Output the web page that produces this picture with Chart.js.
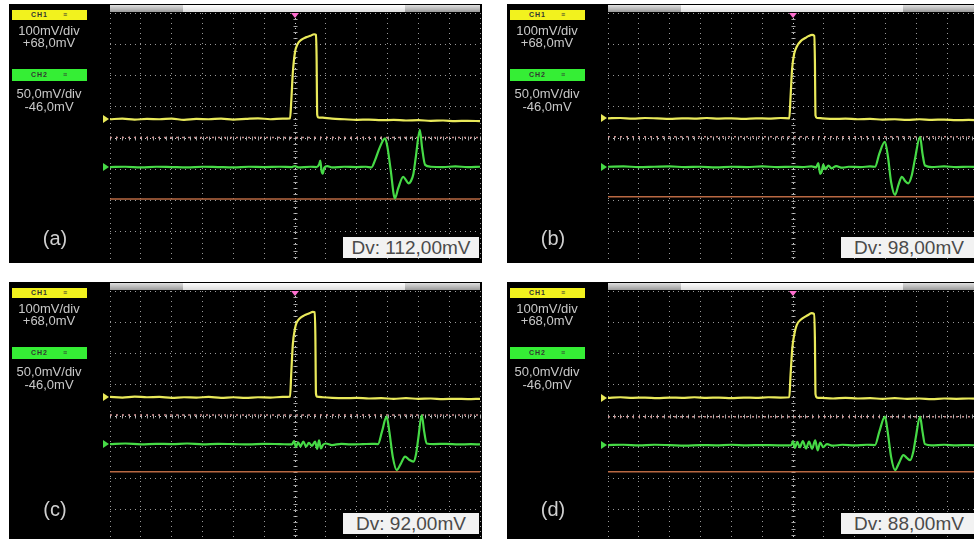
<!DOCTYPE html>
<html><head><meta charset="utf-8">
<script src="https://cdn.jsdelivr.net/npm/chart.js@4"></script>
<style>
html,body{margin:0;padding:0;background:#fff;}
body{width:974px;height:539px;overflow:hidden;position:relative;font-family:"Liberation Sans",Arial,sans-serif;}
.panel{position:absolute;width:473px;height:259px;background:#000;overflow:hidden;}
.panel canvas{position:absolute;left:0;top:0;}
.bar{position:absolute;left:101px;top:1px;width:370px;height:7px;background:linear-gradient(#e0e0e0,#9a9a9a);}
.bar .win{position:absolute;left:73px;top:0;width:222px;height:7px;background:linear-gradient(#ffffff,#dcdcdc);}
.trig{position:absolute;left:282px;top:9px;width:0;height:0;border-left:4px solid transparent;border-right:4px solid transparent;border-top:5px solid #ff70d0;}
.mk{position:absolute;left:94px;width:0;height:0;border-top:4px solid transparent;border-bottom:4px solid transparent;border-left:6px solid #fff;}
.chbox{position:absolute;left:3px;width:75px;font-size:7px;color:#333;text-align:center;font-weight:bold;letter-spacing:1px;word-spacing:12px;}
.txt{position:absolute;left:0;width:80px;text-align:center;color:#c8c8c8;font-size:13px;line-height:13px;white-space:nowrap;}
.lbl{position:absolute;left:26px;width:40px;text-align:center;color:#cfcfcf;font-size:20px;line-height:20px;}
.dv{position:absolute;left:334px;width:136px;height:21px;background:#f2f2f2;color:#4a4a4a;font-size:19px;line-height:21px;text-align:center;white-space:nowrap;}
</style>
</head>
<body>
<script>
// ---- data (x in horizontal divisions 0..12, y in vertical divisions 0..8) ----
const xDivisions = [0,1,2,3,4,5,6,7,8,9,10,11,12];
const yDivisions = [0,1,2,3,4,5,6,7,8];
const panelLabels = ['(a)','(b)','(c)','(d)'];
const dvLabels = ['Dv: 112,00mV','Dv: 98,00mV','Dv: 92,00mV','Dv: 88,00mV'];
const ch1Texts = ['100mV/div','+68,0mV'];
const ch2Texts = ['50,0mV/div','-46,0mV'];
const cursorTop = [4.02, 4.04, 4.03, 3.98];
const cursorBottom = [2.05, 2.12, 2.22, 2.22];

const ch1A = [[0,4.60],[0.4,4.62],[0.8,4.59],[1.2,4.61],[1.6,4.60],[2.0,4.62],[2.4,4.58],[2.8,4.61],[3.2,4.60],[3.6,4.62],[4.0,4.59],[4.4,4.61],[4.8,4.63],[5.2,4.60],[5.6,4.62],[5.84,4.63],[5.88,5.2],[5.93,6.1],[6.0,6.75],[6.08,7.0],[6.2,7.14],[6.35,7.22],[6.5,7.27],[6.62,7.32],[6.68,7.30],[6.70,6.6],[6.72,4.75],[6.76,4.66],[6.9,4.65],[7.2,4.62],[7.6,4.60],[8.0,4.58],[8.4,4.59],[8.8,4.57],[9.2,4.58],[9.6,4.56],[10.0,4.57],[10.4,4.55],[10.8,4.56],[11.2,4.54],[11.6,4.55],[12,4.54]];
const ch2A = [[0,3.07],[0.5,3.08],[1,3.06],[1.5,3.08],[2,3.07],[2.5,3.06],[3,3.08],[3.5,3.07],[4,3.06],[4.5,3.08],[5,3.07],[5.5,3.08],[5.9,3.07],[6.0,3.10],[6.1,3.06],[6.5,3.08],[6.7,3.07],[6.78,3.15],[6.82,3.28],[6.86,2.95],[6.90,2.86],[6.95,3.05],[7.05,3.10],[7.2,3.06],[7.6,3.08],[8.0,3.07],[8.3,3.08],[8.48,3.06],[8.6,3.3],[8.75,3.7],[8.92,3.99],[9.0,3.7],[9.1,3.0],[9.24,2.07],[9.35,2.4],[9.51,2.76],[9.6,2.65],[9.68,2.55],[9.76,2.62],[9.84,2.85],[9.92,3.4],[10.05,4.26],[10.12,3.7],[10.22,3.14],[10.4,3.08],[10.8,3.07],[11.2,3.09],[11.6,3.07],[12,3.08]];

const ch1B = [[0,4.63],[0.4,4.64],[0.8,4.62],[1.2,4.64],[1.6,4.63],[2.0,4.61],[2.4,4.63],[2.8,4.62],[3.2,4.64],[3.6,4.62],[4.0,4.63],[4.4,4.61],[4.8,4.63],[5.2,4.62],[5.6,4.64],[5.88,4.63],[5.92,5.3],[5.97,6.2],[6.04,6.7],[6.12,6.92],[6.25,7.1],[6.4,7.2],[6.5,7.26],[6.62,7.30],[6.69,7.27],[6.71,6.5],[6.73,4.72],[6.78,4.64],[6.95,4.63],[7.3,4.61],[7.7,4.62],[8.1,4.60],[8.5,4.61],[8.9,4.59],[9.3,4.60],[9.7,4.58],[10.1,4.60],[10.5,4.58],[10.9,4.59],[11.3,4.57],[11.7,4.58],[12,4.57]];
const ch2B = [[0,3.08],[0.5,3.09],[1,3.07],[1.5,3.08],[2,3.09],[2.5,3.07],[3,3.08],[3.5,3.06],[4,3.08],[4.5,3.07],[5,3.09],[5.5,3.07],[6.0,3.08],[6.3,3.07],[6.6,3.09],[6.75,3.06],[6.82,3.2],[6.88,2.85],[6.93,2.92],[6.98,3.15],[7.05,3.0],[7.15,3.12],[7.25,3.03],[7.4,3.1],[7.6,3.05],[7.8,3.08],[8.2,3.07],[8.5,3.09],[8.66,3.08],[8.8,3.5],[8.98,3.88],[9.08,3.4],[9.18,2.6],[9.31,2.18],[9.42,2.5],[9.53,2.76],[9.64,2.62],[9.74,2.55],[9.85,2.8],[9.95,3.3],[10.12,4.04],[10.2,3.5],[10.28,3.12],[10.5,3.07],[10.9,3.09],[11.3,3.07],[11.7,3.08],[12,3.07]];

const ch1C = [[0,4.61],[0.4,4.59],[0.8,4.62],[1.2,4.60],[1.6,4.61],[2.0,4.58],[2.4,4.60],[2.8,4.59],[3.2,4.61],[3.6,4.58],[4.0,4.60],[4.4,4.58],[4.8,4.60],[5.2,4.59],[5.6,4.61],[5.84,4.62],[5.88,5.4],[5.93,6.3],[6.0,6.8],[6.05,6.98],[6.15,7.12],[6.3,7.22],[6.45,7.28],[6.58,7.33],[6.64,7.32],[6.66,6.6],[6.68,4.72],[6.72,4.62],[6.9,4.60],[7.2,4.58],[7.6,4.57],[8.0,4.58],[8.4,4.56],[8.8,4.57],[9.2,4.55],[9.6,4.57],[10.0,4.55],[10.4,4.56],[10.8,4.54],[11.2,4.55],[11.6,4.54],[12,4.55]];
const ch2C = [[0,3.10],[0.5,3.12],[1,3.09],[1.5,3.11],[2,3.10],[2.5,3.12],[3,3.09],[3.5,3.11],[4,3.10],[4.5,3.09],[5,3.11],[5.5,3.10],[5.9,3.09],[5.97,3.2],[6.03,3.0],[6.1,3.16],[6.18,3.03],[6.27,3.18],[6.36,3.02],[6.45,3.14],[6.55,3.04],[6.65,3.18],[6.72,2.95],[6.78,3.22],[6.84,2.96],[6.91,3.08],[7.0,3.12],[7.2,3.07],[7.5,3.11],[7.8,3.09],[8.2,3.10],[8.5,3.11],[8.69,3.10],[8.82,3.5],[8.97,3.98],[9.06,3.5],[9.17,2.7],[9.30,2.27],[9.42,2.45],[9.57,2.70],[9.7,2.6],[9.84,2.54],[9.93,2.8],[10.0,3.3],[10.11,4.03],[10.19,3.5],[10.27,3.12],[10.5,3.10],[10.9,3.11],[11.3,3.09],[11.7,3.10],[12,3.09]];

const ch1D = [[0,4.58],[0.4,4.60],[0.8,4.58],[1.2,4.59],[1.6,4.57],[2.0,4.59],[2.4,4.58],[2.8,4.60],[3.2,4.58],[3.6,4.59],[4.0,4.57],[4.4,4.59],[4.8,4.58],[5.2,4.60],[5.6,4.59],[5.88,4.60],[5.92,5.3],[5.98,6.2],[6.05,6.65],[6.12,6.91],[6.25,7.08],[6.4,7.18],[6.52,7.25],[6.6,7.29],[6.68,7.27],[6.71,6.5],[6.73,4.70],[6.78,4.59],[6.95,4.58],[7.3,4.56],[7.7,4.58],[8.1,4.56],[8.5,4.57],[8.9,4.55],[9.3,4.57],[9.7,4.55],[10.1,4.56],[10.5,4.54],[10.9,4.56],[11.3,4.55],[11.7,4.56],[12,4.55]];
const ch2D = [[0,3.07],[0.5,3.08],[1,3.06],[1.5,3.08],[2,3.07],[2.5,3.05],[3,3.07],[3.5,3.06],[4,3.08],[4.5,3.06],[5,3.07],[5.5,3.06],[5.95,3.07],[6.0,3.2],[6.06,2.98],[6.14,3.17],[6.22,3.0],[6.32,3.2],[6.42,2.96],[6.52,3.18],[6.62,2.95],[6.72,3.22],[6.8,2.9],[6.88,3.15],[6.98,3.0],[7.1,3.1],[7.3,3.05],[7.6,3.08],[8.0,3.06],[8.4,3.08],[8.66,3.07],[8.8,3.5],[8.98,3.98],[9.07,3.5],[9.18,2.7],[9.31,2.27],[9.44,2.5],[9.58,2.75],[9.7,2.65],[9.80,2.59],[9.9,2.85],[9.98,3.3],[10.12,3.98],[10.2,3.5],[10.28,3.1],[10.5,3.06],[10.9,3.08],[11.3,3.06],[11.7,3.07],[12,3.06]];

const ch1Sets = [ch1A, ch1B, ch1C, ch1D];
const ch2Sets = [ch2A, ch2B, ch2C, ch2D];

// ---- layout (positions only) ----
const panelPos = [[9,4],[507,4],[9,282],[507,282]];
const labelTop = [224,224,217,217];
const dvTop = [233,233,231,231];

const graticule = {
  id: 'graticule',
  beforeDatasetsDraw(chart) {
    const {ctx, scales: {x, y}} = chart;
    ctx.save();
    ctx.strokeStyle = 'rgba(205,205,205,0.8)';
    ctx.lineWidth = 1;
    const cx = Math.round(x.getPixelForValue(6)) + 0.5;
    const cy = Math.round(y.getPixelForValue(4)) + 0.5;
    ctx.beginPath();
    for (let k = 0; k <= 60; k++) {
      const px = Math.round(x.getPixelForValue(k / 5)) + 0.5;
      ctx.moveTo(px, cy - 2); ctx.lineTo(px, cy + 2);
    }
    for (let k = 0; k <= 40; k++) {
      const py = Math.round(y.getPixelForValue(k / 5)) + 0.5;
      ctx.moveTo(cx - 2, py); ctx.lineTo(cx + 2, py);
    }
    ctx.stroke();
    ctx.restore();
  }
};

function el(parent, cls, style, text) {
  const d = document.createElement('div');
  d.className = cls;
  if (style) d.style.cssText = style;
  if (text !== undefined) d.textContent = text;
  parent.appendChild(d);
  return d;
}

for (let i = 0; i < 4; i++) {
  const p = el(document.body, 'panel', `left:${panelPos[i][0]}px;top:${panelPos[i][1]}px;`);
  const cv = document.createElement('canvas');
  cv.width = 473; cv.height = 259;
  cv.style.width = '473px'; cv.style.height = '259px';
  p.appendChild(cv);

  // sidebar
  el(p, 'chbox', 'top:6px;height:10px;line-height:10px;background:#f2f21e;', 'CH1 ≡');
  el(p, 'txt', 'top:20px;', ch1Texts[0]);
  el(p, 'txt', 'top:32px;', ch1Texts[1]);
  el(p, 'chbox', 'top:65px;height:12px;line-height:12px;background:#35ee35;', 'CH2 ≡');
  el(p, 'txt', 'top:83px;', ch2Texts[0]);
  el(p, 'txt', 'top:96px;', ch2Texts[1]);
  el(p, 'lbl', `top:${labelTop[i]}px;`, panelLabels[i]);

  // screen decorations
  const bar = el(p, 'bar');
  el(bar, 'win');
  el(p, 'trig');

  const ctx = cv.getContext('2d');
  const chart = new Chart(ctx, {
    type: 'line',
    data: {
      datasets: [
        {label: 'CH1', data: ch1Sets[i], borderColor: '#e9e95a', borderWidth: 2.2, order: 0, cubicInterpolationMode: 'monotone'},
        {label: 'CH2', data: ch2Sets[i], borderColor: '#46da46', borderWidth: 2.2, order: 1, cubicInterpolationMode: 'monotone'},
        {label: 'Cursor 1', data: [[0, cursorTop[i]], [12, cursorTop[i]]], borderColor: 'rgba(215,150,150,0.9)', borderWidth: 1.5, borderDash: [2, 4], order: 2},
        {label: 'Cursor 2', data: [[0, cursorBottom[i]], [12, cursorBottom[i]]], borderColor: 'rgba(195,110,70,0.95)', borderWidth: 1.5, order: 3}
      ]
    },
    options: {
      responsive: false,
      animation: false,
      devicePixelRatio: 1,
      events: [],
      layout: {autoPadding: false, padding: {left: 101, top: 9, right: 2, bottom: 0}},
      elements: {point: {radius: 0}, line: {tension: 0}},
      plugins: {legend: {display: false}, tooltip: {enabled: false}},
      scales: {
        x: {
          type: 'linear', min: xDivisions[0], max: xDivisions[xDivisions.length - 1],
          ticks: {display: false, stepSize: 1},
          grid: {drawTicks: false, lineWidth: 1,
                 color: c => (c.tick && c.tick.value === 6) ? 'rgba(225,225,225,0.95)' : 'rgba(190,190,190,0.8)'},
          border: {display: false, dash: [1, 4]}
        },
        y: {
          type: 'linear', min: yDivisions[0], max: yDivisions[yDivisions.length - 1],
          ticks: {display: false, stepSize: 1},
          grid: {drawTicks: false, lineWidth: 1,
                 color: c => (c.tick && c.tick.value === 4) ? 'rgba(225,225,225,0.95)' : 'rgba(190,190,190,0.8)'},
          border: {display: false, dash: [1, 4]}
        }
      }
    },
    plugins: [graticule]
  });

  // channel level markers, placed from the scale
  const yS = chart.scales.y;
  el(p, 'mk', `top:${Math.round(yS.getPixelForValue(ch1Sets[i][0][1])) - 4}px;border-left-color:#e9e95a;`);
  el(p, 'mk', `top:${Math.round(yS.getPixelForValue(ch2Sets[i][0][1])) - 4}px;border-left-color:#46da46;`);

  el(p, 'dv', `top:${dvTop[i]}px;`, dvLabels[i]);
}
</script>
</body></html>
